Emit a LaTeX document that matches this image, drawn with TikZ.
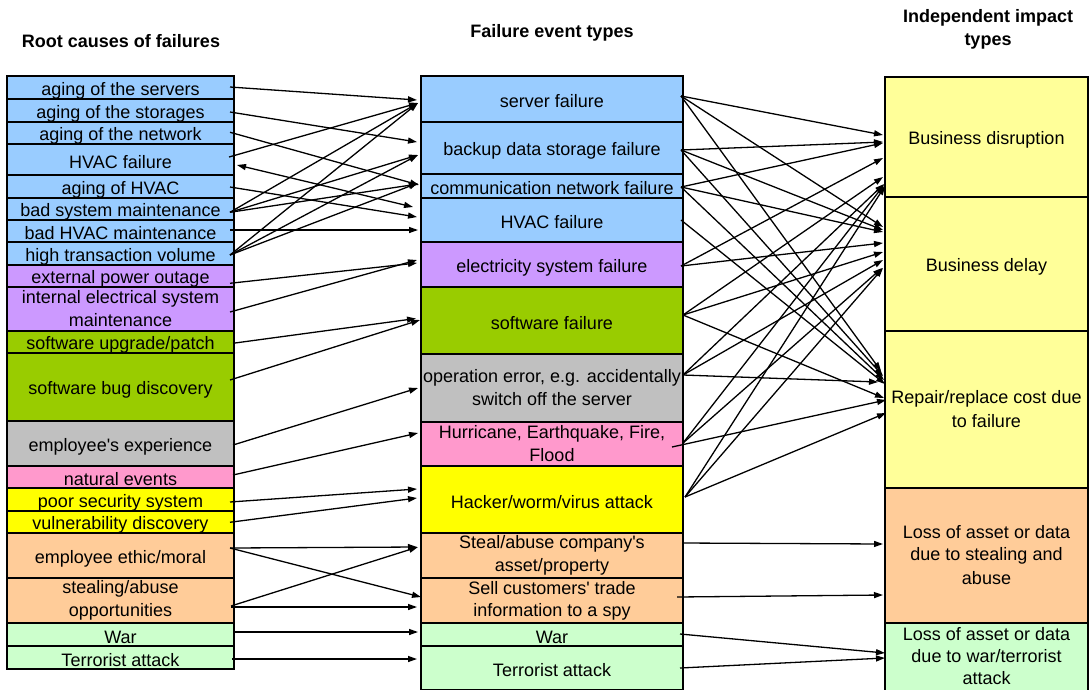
\documentclass[tikz,border=0pt]{standalone}
\usepackage{fontspec}
\setmainfont{Liberation Sans}[Ligatures=TeXOff]
\usetikzlibrary{arrows.meta,calc}

\definecolor{cblue}{RGB}{153,204,255}
\definecolor{clilac}{RGB}{204,153,255}
\definecolor{colive}{RGB}{153,204,0}
\definecolor{cgrey}{RGB}{192,192,192}
\definecolor{cpink}{RGB}{255,153,204}
\definecolor{cyellow}{RGB}{255,255,0}
\definecolor{cpeach}{RGB}{255,204,153}
\definecolor{cmint}{RGB}{204,255,204}
\definecolor{cpale}{RGB}{255,255,153}

% every text line gets the same height and depth, so lines sit alike in all cells
\newcommand\mystrut{\rule[-1.2pt]{0pt}{20pt}}
\newcommand\brk{\\\mystrut}
\newcommand\cellfont{\fontsize{18}{22}\selectfont}

\begin{document}
\begin{tikzpicture}[x=1pt,y=-1pt,
  cell/.style={draw=black, line width=2pt, rectangle, inner sep=0pt, outer sep=0pt,
               anchor=north west, align=center, font=\cellfont, execute at begin node=\mystrut},
  lcell/.style={cell, minimum width=227pt},
  mcell/.style={cell, minimum width=262pt},
  rcell/.style={cell, minimum width=203pt},
  head/.style={font=\cellfont\bfseries, align=center, inner sep=0pt, execute at begin node=\mystrut},
  arr/.style={line width=1.3pt, -{Triangle[length=9pt,width=6pt]}},
  darr/.style={line width=1.3pt, {Triangle[length=9pt,width=6pt]}-{Triangle[length=9pt,width=6pt]}},
]
\useasboundingbox (0,0) rectangle (1089,689);
\clip (0,0) rectangle (1089,689);

% column headings
\node[head] (h1) at (121,39) {Root causes of failures};
\node[head] (h2) at (552,29.5) {Failure event types};
\node[head] (h3) at (988,29.5) {Independent impact\brk types};

% root causes
\node[lcell, fill=cblue,   minimum height=23pt] (l1)  at (7,76)  {aging of the servers};
\node[lcell, fill=cblue,   minimum height=23pt] (l2)  at (7,99)  {aging of the storages};
\node[lcell, fill=cblue,   minimum height=22pt] (l3)  at (7,122) {aging of the network};
\node[lcell, fill=cblue,   minimum height=31pt] (l4)  at (7,144) {HVAC failure};
\node[lcell, fill=cblue,   minimum height=23pt] (l5)  at (7,175) {aging of HVAC};
\node[lcell, fill=cblue,   minimum height=22pt] (l6)  at (7,198) {bad system maintenance};
\node[lcell, fill=cblue,   minimum height=22pt] (l7)  at (7,220) {bad HVAC maintenance};
\node[lcell, fill=cblue,   minimum height=23pt] (l8)  at (7,242) {high transaction volume};
\node[lcell, fill=clilac,  minimum height=22pt] (l9)  at (7,265) {external power outage};
\node[lcell, fill=clilac,  minimum height=44pt] (l10) at (7,287) {internal electrical system\brk maintenance};
\node[lcell, fill=colive,  minimum height=22pt] (l11) at (7,331) {software upgrade/patch};
\node[lcell, fill=colive,  minimum height=68pt] (l12) at (7,353) {software bug discovery};
\node[lcell, fill=cgrey,   minimum height=45pt] (l13) at (7,421) {employee's experience};
\node[lcell, fill=cpink,   minimum height=22pt] (l14) at (7,466) {natural events};
\node[lcell, fill=cyellow, minimum height=23pt] (l15) at (7,488) {poor security system};
\node[lcell, fill=cyellow, minimum height=22pt] (l16) at (7,511) {vulnerability discovery};
\node[lcell, fill=cpeach,  minimum height=45pt] (l17) at (7,533) {employee ethic/moral};
\node[lcell, fill=cpeach,  minimum height=45pt] (l18) at (7,578) {stealing/abuse\brk opportunities};
\node[lcell, fill=cmint,   minimum height=23pt] (l19) at (7,623) {War};
\node[lcell, fill=cmint,   minimum height=23pt] (l20) at (7,646) {Terrorist attack};

% failure events
\node[mcell, fill=cblue,   minimum height=46pt] (m1)  at (421,76)  {server failure};
\node[mcell, fill=cblue,   minimum height=52pt] (m2)  at (421,122) {backup data storage failure};
\node[mcell, fill=cblue,   minimum height=24pt] (m3)  at (421,174) {communication network failure};
\node[mcell, fill=cblue,   minimum height=44pt] (m4)  at (421,198) {HVAC failure};
\node[mcell, fill=clilac,  minimum height=45pt] (m5)  at (421,242) {electricity system failure};
\node[mcell, fill=colive,  minimum height=67pt] (m6)  at (421,287) {software failure};
\node[mcell, fill=cgrey,   minimum height=68pt] (m7)  at (421,354) {operation error, e.g. accidentally\brk switch off the server};
\node[mcell, fill=cpink,   minimum height=44pt] (m8)  at (421,422) {Hurricane, Earthquake, Fire,\brk Flood};
\node[mcell, fill=cyellow, minimum height=67pt] (m9)  at (421,466) {Hacker/worm/virus attack};
\node[mcell, fill=cpeach,  minimum height=45pt] (m10) at (421,533) {Steal/abuse company's\brk asset/property};
\node[mcell, fill=cpeach,  minimum height=45pt] (m11) at (421,578) {Sell customers' trade\brk information to a spy};
\node[mcell, fill=cmint,   minimum height=23pt] (m12) at (421,623) {War};
\node[mcell, fill=cmint,   minimum height=44pt] (m13) at (421,646) {Terrorist attack};

% impact types
\node[rcell, fill=cpale,  minimum height=120pt] (r1) at (885,77)  {Business disruption};
\node[rcell, fill=cpale,  minimum height=134pt] (r2) at (885,197) {Business delay};
\node[rcell, fill=cpale,  minimum height=157pt] (r3) at (885,331) {Repair/replace cost due\brk to failure};
\node[rcell, fill=cpeach, minimum height=135pt] (r4) at (885,488) {Loss of asset or data\brk due to stealing and\brk abuse};
\node[rcell, fill=cmint,  minimum height=68pt]  (r5) at (885,623) {Loss of asset or data\brk due to war/terrorist\brk attack};

% causes -> failure events
\draw[arr] ($(l1.east)+(-4,-0.5)$) -- ($(m1.west)+(-4,1)$);
\draw[arr] ($(l2.east)+(-4,1.5)$)  -- ($(m2.west)+(-4,-6)$);
\draw[arr] ($(l3.east)+(-4,-1)$)   -- ($(m3.west)+(-2,-1)$);
\draw[arr] ($(l4.east)+(-5,-2.5)$) -- ($(m1.west)+(-3,4)$);
\draw[darr] ($(l4.east)+(3,5.5)$)  -- ($(m4.west)+(-8,-13)$);
\draw[arr] ($(l5.east)+(-4,0.5)$)  -- ($(m4.west)+(-4,-3)$);
\draw[arr] ($(l6.east)+(-4,3)$)    -- ($(m1.west)+(-3,4)$);
\draw[arr] ($(l6.east)+(-4,3)$)    -- ($(m2.west)+(-3,7)$);
\draw[arr] ($(l6.east)+(-4,3)$)    -- ($(m3.west)+(-3,-2)$);
\draw[arr] ($(l7.east)+(-4,-1)$)   -- ($(m4.west)+(-3,10)$);
\draw[arr] ($(l8.east)+(-4,1.5)$)  -- ($(m1.west)+(-3,4)$);
\draw[arr] ($(l8.east)+(-4,1.5)$)  -- ($(m2.west)+(-3,7)$);
\draw[arr] ($(l8.east)+(-4,1.5)$)  -- ($(m3.west)+(-3,-3)$);
\draw[arr] ($(l9.east)+(-4,7)$)    -- ($(m5.west)+(-4,-1.5)$);
\draw[arr] ($(l10.east)+(-4,3)$)   -- ($(m5.west)+(-4,-4.5)$);
\draw[arr] ($(l11.east)+(-1,1)$)   -- ($(m6.west)+(-5,-2)$);
\draw[arr] ($(l12.east)+(-4,-7)$)  -- ($(m6.west)+(-1,-0.5)$);
\draw[arr] ($(l13.east)+(-1,1.5)$) -- ($(m7.west)+(-3,0)$);
\draw[arr] ($(l14.east)+(-1,-2)$)  -- ($(m8.west)+(-3,-11)$);
\draw[arr] ($(l15.east)+(-4,2.5)$) -- ($(m9.west)+(-4,-10.5)$);
\draw[arr] ($(l16.east)+(-4,0)$)   -- ($(m9.west)+(-4,-1.5)$);
\draw[arr] ($(l17.east)+(-4,-7.5)$) -- ($(m10.west)+(-4,-8.5)$);
\draw[arr] ($(l17.east)+(-4,-7.5)$) -- ($(m11.west)+(0,-3.5)$);
\draw[arr] ($(l18.east)+(-3,5.5)$) -- ($(m10.west)+(-3,-8.5)$);
\draw[arr] ($(l18.east)+(-3,6.5)$) -- ($(m11.west)+(-4,6.5)$);
\draw[arr] ($(l19.east)+(-1,-2.5)$) -- ($(m12.west)+(-3,-2.5)$);
\draw[arr] ($(l20.east)+(-2,1.5)$) -- ($(m13.west)+(-4,-9)$);

% failure events -> impacts
\draw[arr] ($(m1.east)+(-2,-3)$) -- ($(r1.west)+(-2,-2)$);
\draw[arr] ($(m1.east)+(-2,-3)$) -- ($(r2.west)+(-2,-37)$);
\draw[arr] ($(m1.east)+(-2,-3)$) -- ($(r3.west)+(-4,-38.5)$);
\draw[arr] ($(m2.east)+(-2,2)$)  -- ($(r1.west)+(-2,5)$);
\draw[arr] ($(m2.east)+(-2,2)$)  -- ($(r2.west)+(-2,-34)$);
\draw[arr] ($(m2.east)+(-2,2)$)  -- ($(r3.west)+(-2,-33.5)$);
\draw[arr] ($(m3.east)+(-2,1)$)  -- ($(r1.west)+(-2,6)$);
\draw[arr] ($(m3.east)+(-2,1)$)  -- ($(r2.west)+(-2,-32)$);
\draw[arr] ($(m3.east)+(-2,1)$)  -- ($(r3.west)+(-1,-29.5)$);
\draw[arr] ($(m4.east)+(-2,0)$)  -- ($(r3.west)+(0,-25.5)$);
\draw[arr] ($(m5.east)+(-2,1.5)$) -- ($(r1.west)+(-2,21)$);
\draw[arr] ($(m5.east)+(-2,1.5)$) -- ($(r2.west)+(-2,-21)$);
\draw[arr] ($(m6.east)+(0,-5.5)$) -- ($(r1.west)+(-2,40)$);
\draw[arr] ($(m6.east)+(0,-5.5)$) -- ($(r2.west)+(-2,-12)$);
\draw[arr] ($(m6.east)+(0,-5.5)$) -- ($(r3.west)+(-1,-11.5)$);
\draw[arr] ($(m7.east)+(0,-13)$) -- ($(r1.west)+(-1,47)$);
\draw[arr] ($(m7.east)+(0,-13)$) -- ($(r2.west)+(-2,-4)$);
\draw[arr] ($(m7.east)+(0,-13)$) -- ($(r3.west)+(-7,-27.5)$);
\draw[arr] ($(m8.east)+(0,-1)$)  -- ($(r1.west)+(-1,48)$);
\draw[arr] ($(m8.east)+(0,-1)$)  -- ($(r2.west)+(-3,4)$);
\draw[arr] ($(m8.east)+(-11,3)$) -- ($(r3.west)+(1,-9.5)$);
\draw[arr] ($(m9.east)+(2,-2.5)$) -- ($(r1.west)+(0,49)$);
\draw[arr] ($(m9.east)+(2,-2.5)$) -- ($(r2.west)+(-2,4)$);
\draw[arr] ($(m9.east)+(2,-2.5)$) -- ($(r3.west)+(1,3.5)$);
\draw[arr] ($(m10.east)+(-1,-12.5)$) -- ($(r4.west)+(-2,-11.5)$);
\draw[arr] ($(m11.east)+(-6,-3.5)$)  -- ($(r4.west)+(-2,39.5)$);
\draw[arr] ($(m12.east)+(-3,-0.5)$)  -- ($(r5.west)+(0,-4)$);
\draw[arr] ($(m13.east)+(-3,0)$)     -- ($(r5.west)+(0,1)$);
\end{tikzpicture}
\end{document}
